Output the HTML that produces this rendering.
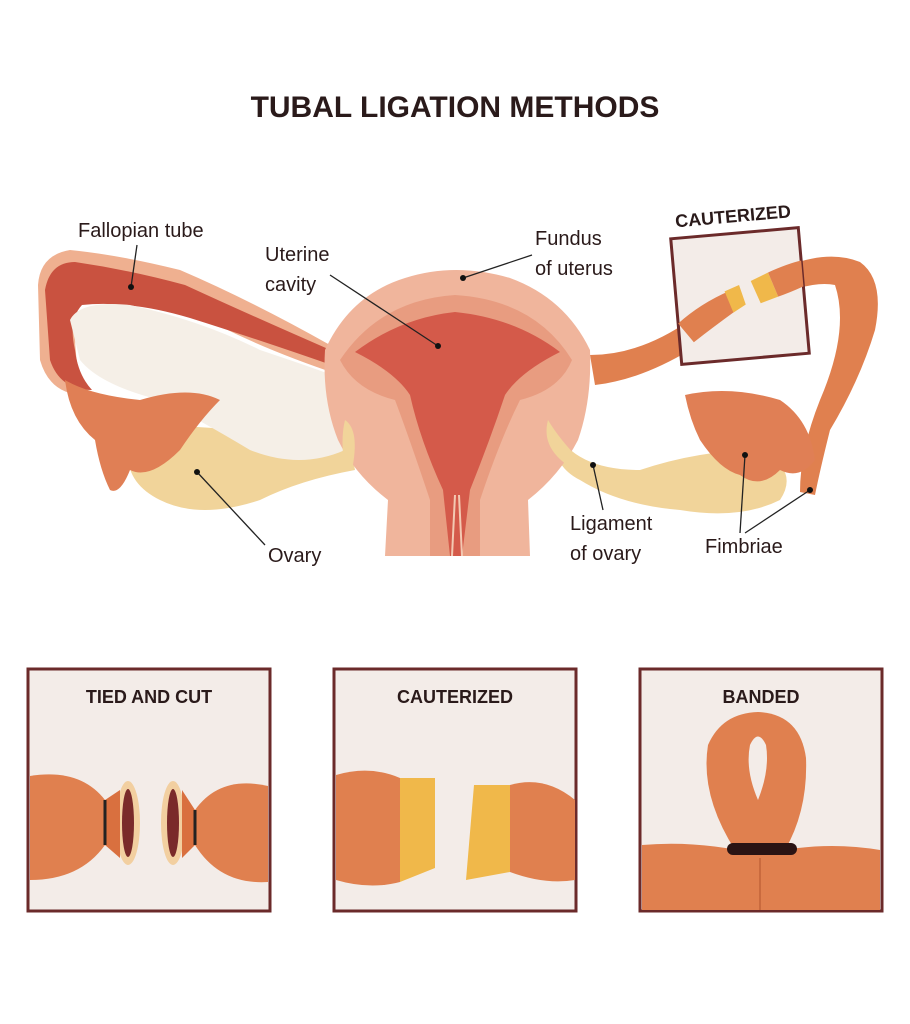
<!DOCTYPE html>
<html><head><meta charset="utf-8"><style>
html,body{margin:0;padding:0;background:#fff;width:910px;height:1024px;overflow:hidden}
text{font-family:"Liberation Sans",sans-serif;fill:#2a1a1a}
</style></head><body>
<svg width="910" height="1024" viewBox="0 0 910 1024" xmlns="http://www.w3.org/2000/svg">
<text x="455" y="117" text-anchor="middle" font-size="30" font-weight="bold" fill="#3a1818">TUBAL LIGATION METHODS</text>

<!-- left ovary -->
<path d="M130,440 Q150,420 230,430 Q300,440 345,420 L355,470 Q300,480 260,500 Q200,520 160,500 Q120,480 130,440Z" fill="#f1d49a"/>
<!-- right ovary -->
<path d="M555,430 Q575,470 640,470 Q700,450 760,450 Q800,470 780,500 Q740,520 680,510 Q620,505 580,480 Q550,465 555,430Z" fill="#f1d49a"/>

<!-- left tube outer -->
<path d="M38,285 Q40,255 70,250 Q120,255 180,270 Q250,300 330,345 L340,375 Q250,345 190,310 Q120,290 80,300 Q70,330 80,380 L85,395 Q50,395 40,360Z" fill="#efb090"/>
<path d="M45,290 Q50,262 75,262 Q130,270 185,285 Q250,315 335,352 L340,368 Q260,340 190,318 Q130,300 82,305 Q68,320 75,350 Q78,375 92,390 Q60,390 50,360Z" fill="#c95240"/>
<!-- white cutaway -->
<path d="M70,320 Q80,300 130,305 Q200,320 260,350 Q320,370 345,380 L345,450 Q300,470 250,450 Q200,420 160,400 Q100,385 80,360Z" fill="#f5efe7"/>
<!-- left fimbriae -->
<path d="M65,380 Q90,395 140,400 Q190,385 220,400 Q200,420 180,450 Q150,480 130,470 Q120,495 110,490 Q100,470 95,440 Q70,420 65,380Z" fill="#e07f55"/>

<!-- right tube -->
<path d="M590,355 Q640,355 690,320 Q740,285 790,265 Q830,250 860,262 Q885,280 875,330 Q860,380 830,430 Q820,470 815,495 L800,492 Q800,450 820,400 Q850,330 835,285 Q810,280 770,300 Q720,330 690,350 Q640,380 595,385Z" fill="#e0804f"/>
<path d="M685,395 Q730,385 780,400 Q810,420 815,460 Q800,480 780,470 Q760,490 740,475 Q720,470 700,440 Q690,420 685,395Z" fill="#e07f55"/>

<!-- uterus outer -->
<path d="M325,350 Q350,295 405,278 Q455,262 510,278 Q565,298 590,350 Q592,400 578,440 Q560,475 528,500 L530,556 L385,556 L388,500 Q355,475 338,440 Q322,400 325,350Z" fill="#f0b59c"/>
<path d="M340,360 Q380,300 455,295 Q535,300 572,360 Q560,390 520,400 Q500,440 480,500 L480,556 L430,556 L430,500 Q410,440 395,400 Q355,390 340,360Z" fill="#e89c80"/>
<!-- cavity -->
<path d="M355,352 Q400,318 455,312 Q515,318 560,352 Q520,372 505,395 Q490,440 470,490 L462,556 L450,556 L443,490 Q420,440 410,395 Q395,372 355,352Z" fill="#d45a4a"/>
<path d="M455,495 L452,556 M459,495 L462,556" stroke="#f3c9b2" stroke-width="2"/>
<!-- ligaments -->
<path d="M345,420 Q360,430 352,470 L345,470 Q340,440 345,420Z" fill="#f1d49a"/>
<path d="M548,420 Q540,450 575,470 L580,460 Q560,440 548,420Z" fill="#f1d49a"/>

<!-- cauterized box top -->
<g transform="rotate(-5 740 296)">
<rect x="676" y="233" width="128" height="126" fill="#f3ece8" stroke="#6b2a2a" stroke-width="3"/>
<path d="M676,318 Q700,300 730,290 L735,310 Q710,325 690,338Z" fill="#e0804f"/>
<path d="M725,290 L740,285 L745,305 L732,312Z" fill="#f0b84a"/>
<path d="M752,282 L770,275 L778,300 L760,305Z" fill="#f0b84a"/>
<path d="M770,275 Q790,268 804,266 L804,292 Q790,297 778,300Z" fill="#e0804f"/>
<text x="740" y="222" text-anchor="middle" font-size="18" font-weight="bold" fill="#2a1818">CAUTERIZED</text>
</g>

<!-- labels & leaders -->
<g stroke="#222" stroke-width="1.3" fill="none">
<path d="M137,245 L131,287"/><path d="M330,275 L438,346"/><path d="M532,255 L463,278"/>
<path d="M197,472 L265,545"/><path d="M593,465 L603,510"/><path d="M745,455 L740,533"/><path d="M810,490 L745,533"/>
</g>
<g fill="#111"><circle cx="131" cy="287" r="3"/><circle cx="438" cy="346" r="3"/><circle cx="463" cy="278" r="3"/><circle cx="197" cy="472" r="3"/><circle cx="593" cy="465" r="3"/><circle cx="745" cy="455" r="3"/><circle cx="810" cy="490" r="3"/></g>
<g font-size="20">
<text x="78" y="237">Fallopian tube</text>
<text x="265" y="261">Uterine</text><text x="265" y="291">cavity</text>
<text x="535" y="245">Fundus</text><text x="535" y="275">of uterus</text>
<text x="268" y="562">Ovary</text>
<text x="570" y="530">Ligament</text><text x="570" y="560">of ovary</text>
<text x="705" y="553">Fimbriae</text>
</g>

<!-- bottom boxes -->
<g stroke="#6b2a2a" stroke-width="3" fill="#f3ece8">
<rect x="28" y="669" width="242" height="242"/><rect x="334" y="669" width="242" height="242"/><rect x="640" y="669" width="242" height="242"/>
</g>
<g font-size="18" font-weight="bold" text-anchor="middle">
<text x="149" y="703">TIED AND CUT</text><text x="455" y="703">CAUTERIZED</text><text x="761" y="703">BANDED</text>
</g>
<!-- tied and cut -->
<path d="M30,776 Q80,768 105,800 L105,845 Q80,880 30,880Z" fill="#e0804f"/>
<path d="M268,786 Q220,775 195,810 L195,845 Q220,885 268,882Z" fill="#e0804f"/>
<ellipse cx="128" cy="823" rx="12" ry="42" fill="#f2cfa0"/><ellipse cx="128" cy="823" rx="6" ry="34" fill="#7a2a2a"/>
<ellipse cx="173" cy="823" rx="12" ry="42" fill="#f2cfa0"/><ellipse cx="173" cy="823" rx="6" ry="34" fill="#7a2a2a"/>
<path d="M105,800 L120,790 L120,858 L105,845Z M195,810 L182,790 L182,858 L195,845Z" fill="#d9703f"/>
<path d="M105,800 L105,845 M195,810 L195,845" stroke="#222" stroke-width="3"/>
<!-- cauterized -->
<path d="M336,775 Q370,765 400,778 L400,882 Q370,890 336,880Z" fill="#e0804f"/>
<path d="M400,778 L435,778 L435,868 L400,882Z" fill="#f0b84a"/>
<path d="M474,785 L510,785 L510,872 L466,880Z" fill="#f0b84a"/>
<path d="M510,785 Q545,775 575,800 L575,880 Q545,885 510,872Z" fill="#e0804f"/>
<!-- banded -->
<path d="M642,845 Q700,840 760,855 Q820,840 880,850 L880,910 L642,910Z" fill="#e0804f"/>
<path d="M735,850 Q700,795 708,745 Q722,713 758,712 Q800,714 806,758 Q808,810 785,850Z" fill="#e0804f"/>
<path d="M758,800 Q745,770 750,745 Q758,728 766,745 Q770,770 758,800Z" fill="#f3ece8"/>
<path d="M760,858 L760,910" stroke="#c96a3e" stroke-width="2"/>
<rect x="727" y="843" width="70" height="12" rx="6" fill="#2a1414"/>
</svg>
</body></html>
